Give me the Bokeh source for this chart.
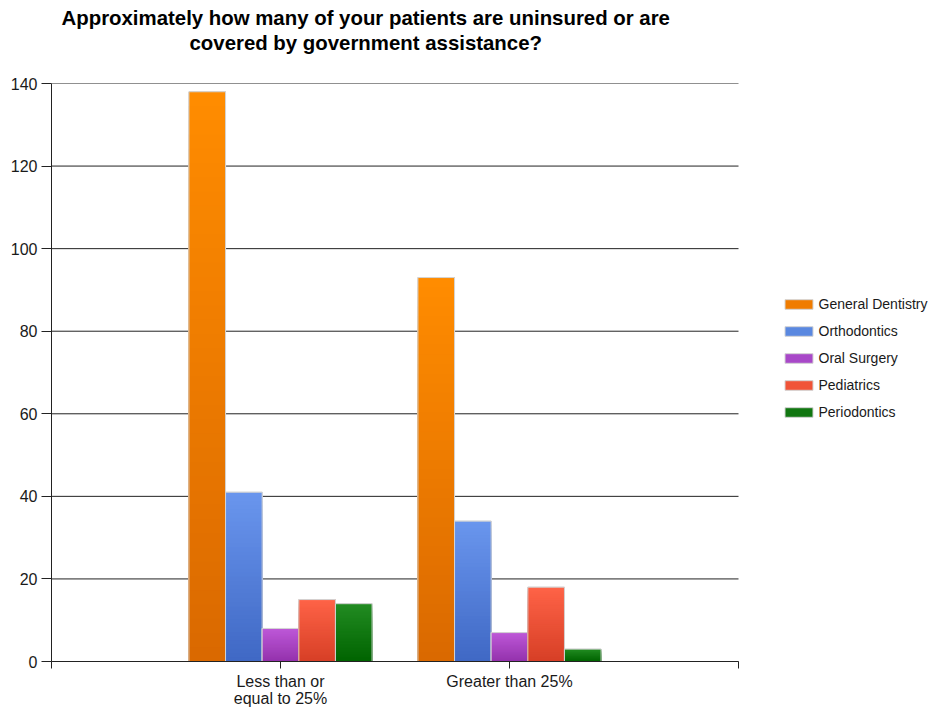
from bokeh.plotting import figure
from bokeh.models import FixedTicker, Title, Legend, LegendItem
from bokeh.embed import file_html
from bokeh.resources import INLINE

# ---- data ----
categories = ["Less than or\nequal to 25%", "Greater than 25%"]
series_names = ["General Dentistry", "Orthodontics", "Oral Surgery", "Pediatrics", "Periodontics"]
general_dentistry = [138, 93]
orthodontics = [41, 34]
oral_surgery = [8, 7]
pediatrics = [15, 18]
periodontics = [14, 3]
y_tick_values = [0, 20, 40, 60, 80, 100, 120, 140]

series_values = [general_dentistry, orthodontics, oral_surgery, pediatrics, periodontics]

# ---- styles ----
top_colors = ["#FF8C00", "#6A96EE", "#BE58D8", "#FF6347", "#228B22"]
bottom_colors = ["#DA6900", "#3F68C4", "#9332AC", "#D63F26", "#006400"]
mid_colors = ["#F07C00", "#5A88E0", "#A848C8", "#F05438", "#117711"]
offsets = [-0.32, -0.16, 0.0, 0.16, 0.32]
bar_w = 0.16
N = 40
FONT = "Liberation Sans"

X_MAX = 3                      # category axis spans 0..3 (categories at 1 and 2)
FRAME_LEFT, FRAME_RIGHT_AXIS, FIG_W, FIG_H = 51, 738, 930, 709
x_end = X_MAX * (FIG_W - FRAME_LEFT) / (FRAME_RIGHT_AXIS - FRAME_LEFT)  # room for legend


def mix(c1, c2, t):
    a = [int(c1[i:i + 2], 16) for i in (1, 3, 5)]
    b = [int(c2[i:i + 2], 16) for i in (1, 3, 5)]
    return "#%02x%02x%02x" % tuple(round(a[j] + (b[j] - a[j]) * t) for j in range(3))


p = figure(width=FIG_W, height=FIG_H, output_backend="svg", toolbar_location=None,
           x_range=(0, x_end), y_range=(0, 140),
           min_border_left=FRAME_LEFT, min_border_right=0, min_border_bottom=48, min_border_top=83)
p.outline_line_color = None
p.background_fill_color = "white"
p.border_fill_color = "white"

cat_x = [i + 1 for i in range(len(categories))]

# horizontal grid lines across the category area only
p.segment(x0=[0] * len(y_tick_values), x1=[X_MAX] * len(y_tick_values),
          y0=y_tick_values, y1=y_tick_values, line_color="#222222", line_width=1)

legend_items = []
for s, vals in enumerate(series_values):
    xs = [c + offsets[s] for c in cat_x]
    base = p.vbar(x=xs, top=vals, bottom=0, width=bar_w, fill_color=mid_colors[s],
                  line_color="#D4D4D4", line_width=1)
    legend_items.append(LegendItem(label=series_names[s], renderers=[base]))
    for k in range(N):
        frac = (N - k) / N
        tops = [v * frac for v in vals]
        col = mix(bottom_colors[s], top_colors[s], frac - 0.5 / N)
        p.vbar(x=xs, top=tops, bottom=0, width=bar_w, fill_color=col, line_color=None)
    p.vbar(x=xs, top=vals, bottom=0, width=bar_w, fill_alpha=0,
           line_color="#D4D4D4", line_width=1)

# axes
p.xaxis.ticker = FixedTicker(ticks=[0] + cat_x + [X_MAX])
p.xaxis.bounds = (0, X_MAX)
overrides = {0: "", X_MAX: ""}
for i, c in enumerate(categories):
    overrides[cat_x[i]] = c
p.xaxis.major_label_overrides = overrides
p.xaxis.major_tick_in = 0
p.xaxis.major_tick_out = 7
p.xaxis.minor_tick_line_color = None
p.xaxis.major_label_standoff = 4
p.xaxis.major_label_text_line_height = 1.0
p.xaxis.axis_line_color = "#222222"
p.xaxis.major_tick_line_color = "#222222"

p.yaxis.ticker = FixedTicker(ticks=y_tick_values)
p.yaxis.major_tick_in = 0
p.yaxis.major_tick_out = 10
p.yaxis.minor_tick_line_color = None
p.yaxis.major_label_standoff = 4
p.yaxis.axis_line_color = "#222222"
p.yaxis.major_tick_line_color = "#222222"

for ax in (p.xaxis, p.yaxis):
    ax.major_label_text_font = FONT
    ax.major_label_text_font_size = "16px"
    ax.major_label_text_color = "#1a1a1a"

p.xgrid.grid_line_color = None
p.ygrid.grid_line_color = None

# title (two lines, each centred over the same point) + spacer below it
spacer = Title(text=" ", text_font=FONT, text_font_size="10px", standoff=17)
t2 = Title(text="covered by government assistance?", align="left", offset=138,
           text_font=FONT, text_font_size="20.4px", text_font_style="bold",
           text_color="#000000", standoff=0)
t1 = Title(text="Approximately how many of your patients are uninsured or are", align="left",
           offset=10, text_font=FONT, text_font_size="20.4px",
           text_font_style="bold", text_color="#000000", standoff=2)
p.add_layout(spacer, "above")
p.add_layout(t2, "above")
p.add_layout(t1, "above")

legend = Legend(items=legend_items, location=(729.5, 241), margin=0, padding=0,
                glyph_width=35, glyph_height=12, label_height=14, spacing=11,
                label_standoff=3, label_text_font=FONT,
                label_text_font_size="14px", label_text_color="#1a1a1a",
                border_line_color=None, background_fill_alpha=0)
p.add_layout(legend)

open("out.html", "w").write(file_html(p, INLINE))
